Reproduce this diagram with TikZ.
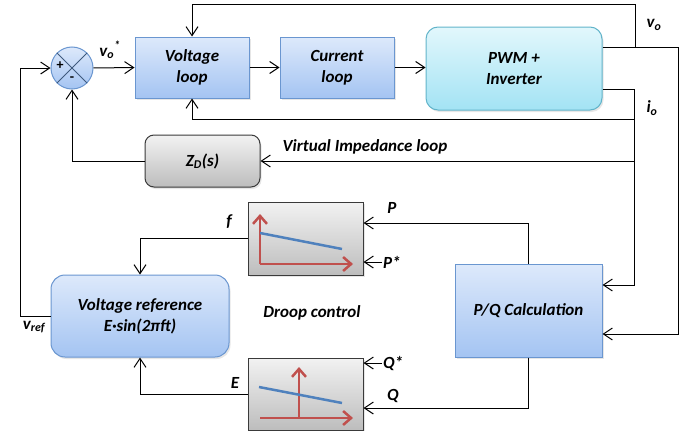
\documentclass[tikz,border=0pt]{standalone}
\usepackage{fontspec}
\setmainfont{Carlito}
\usepackage{xcolor}
\usetikzlibrary{arrows.meta,positioning,shadows,calc}

\definecolor{blueedge}{HTML}{6A96D0}
\definecolor{bluetop}{HTML}{DDE9FB}
\definecolor{bluebot}{HTML}{A4C4F2}
\definecolor{cyanedge}{HTML}{62B4CA}
\definecolor{cyantop}{HTML}{E2F7FC}
\definecolor{cyanbot}{HTML}{A3E3F4}
\definecolor{grayedge}{HTML}{3A3A3A}
\definecolor{graytop}{HTML}{F2F2F2}
\definecolor{graybot}{HTML}{BDBDBD}
\definecolor{droopred}{HTML}{C0504D}
\definecolor{droopblue}{HTML}{4F81BD}

\tikzset{
  wire/.style={line width=1pt,-{Straight Barb[length=9pt,width=12pt]}},
  bluebox/.style={draw=blueedge,line width=1pt,top color=bluetop,bottom color=bluebot,
    drop shadow={opacity=0.2,shadow xshift=1.5pt,shadow yshift=-2pt},align=center,inner sep=0pt},
  cyanbox/.style={draw=cyanedge,line width=1pt,top color=cyantop,bottom color=cyanbot,rounded corners=12pt,
    drop shadow={opacity=0.2,shadow xshift=1.5pt,shadow yshift=-2pt},align=center,inner sep=0pt},
  graybox/.style={draw=grayedge,line width=1pt,top color=graytop,bottom color=graybot,
    drop shadow={opacity=0.2,shadow xshift=1.5pt,shadow yshift=-2pt},align=center,inner sep=0pt},
  sumnode/.style={circle,draw=blueedge,line width=1pt,top color=bluetop,bottom color=bluebot,
    minimum size=42pt,inner sep=0pt},
  lbl/.style={inner sep=1pt},
  axis/.style={droopred,line width=2.5pt,-{Straight Barb[length=8pt,width=14pt]}},
  slope/.style={droopblue,line width=2.5pt}
}

\begin{document}
\begin{tikzpicture}[x=1pt,y=-1pt,font=\fontsize{17}{21}\selectfont\bfseries\itshape]
\useasboundingbox (0,0) rectangle (694,431);

% blocks
\node[sumnode] (sum) at (72,68) {};
\node[bluebox,minimum width=114pt,minimum height=61pt] (vloop) at (192,67.5) {Voltage\\loop};
\node[bluebox,minimum width=114pt,minimum height=61pt] (cloop) at (337,67.5) {Current\\loop};
\node[cyanbox,minimum width=176pt,minimum height=83pt] (pwm) at (514,68.5) {PWM +\\Inverter};
\node[graybox,rounded corners=9pt,minimum width=115pt,minimum height=52pt] (zd) at (202.5,161) {Z\textsubscript{D}(s)};
\node[bluebox,rounded corners=14pt,minimum width=178pt,minimum height=82pt] (vref) at (140,316) {Voltage reference\\E·sin(2πft)};
\node[graybox,minimum width=115pt,minimum height=73pt] (fbox) at (305.5,238.5) {};
\node[graybox,minimum width=115pt,minimum height=72pt] (ebox) at (305.5,394) {};
\node[bluebox,minimum width=147pt,minimum height=93pt] (pq) at (528.5,310.5) {P/Q Calculation};

% summing junction marks
\draw[blueedge!60!black,line width=0.8pt] (sum.north west) -- (sum.south east)
  (sum.north east) -- (sum.south west);
\node[font=\fontsize{14}{14}\selectfont\bfseries] at (60,66) {+};
\node[font=\fontsize{14}{14}\selectfont\bfseries] at (72,79) {-};

% droop characteristics
\draw[axis] (260,264) -- (260,214);
\draw[axis] (260,264) -- (353,264);
\draw[slope] (260,233) -- (342,249);
\draw[axis] (260,418) -- (353,418);
\draw[axis] (299,418) -- (299,367);
\draw[slope] (259,387) -- (342,403);

% junctions
\coordinate (vo) at (635,47);
\coordinate (vor) at (678,47);
\coordinate (io) at (634,89);

% forward path
\draw[wire] (sum.east) -- (vloop.west);
\draw[wire] (vloop.east) -- (cloop.west);
\draw[wire] (cloop.east) -- (pwm.west |- cloop.east);

% feedback paths
\draw[wire] (pwm.east |- vo) -- (vor) |- ($(pq.east)+(0,23.5)$);
\draw[wire] (vo) -- (vo |- 0,4) -| (vloop.north);
\draw[wire] (pwm.east |- io) -- (io) |- ($(pq.east)+(0,-25.5)$);
\draw[wire] (io |- 0,119) -| (vloop.south);
\draw[wire] (io |- 0,119) -- (io |- 0,161) -- (zd.east);
\draw[wire] (zd.west) -| (sum.south);
\draw[wire] (vref.west) -- ++(-30,0) |- (sum.west);
\draw[wire] (fbox.west) -| (vref.north);
\draw[wire] (ebox.west) -| (vref.south);
\draw[wire] (pq.north) |- ($(fbox.east)+(0,-15.5)$);
\draw[wire] (pq.south) |- ($(ebox.east)+(0,14)$);

% set points
\node[lbl,anchor=west] (pstar) at (382,262) {P*};
\node[lbl,anchor=west] (qstar) at (382,363) {Q*};
\draw[wire] (pstar.west) -- (fbox.east |- pstar.west);
\draw[wire] (qstar.west) -- (ebox.east |- qstar.west);

% labels
\node[lbl] (volbl) at (654,25) {v\textsubscript{o}};
\node[lbl] (iolbl) at (652,108) {i\textsubscript{o}};
\node[lbl] (vostar) at (110,50) {v\textsubscript{o}\textsuperscript{*}};
\node[lbl] (vreflbl) at (34,327) {v\textsubscript{ref}};
\node[lbl] (vilbl) at (365,147) {Virtual Impedance loop};
\node[lbl] (flbl) at (229,222) {f};
\node[lbl] (elbl) at (235,383) {E};
\node[lbl] (plbl) at (392,208) {P};
\node[lbl] (qlbl) at (393,396) {Q};
\node[lbl] (droop) at (312,313) {Droop control};
\end{tikzpicture}
\end{document}
